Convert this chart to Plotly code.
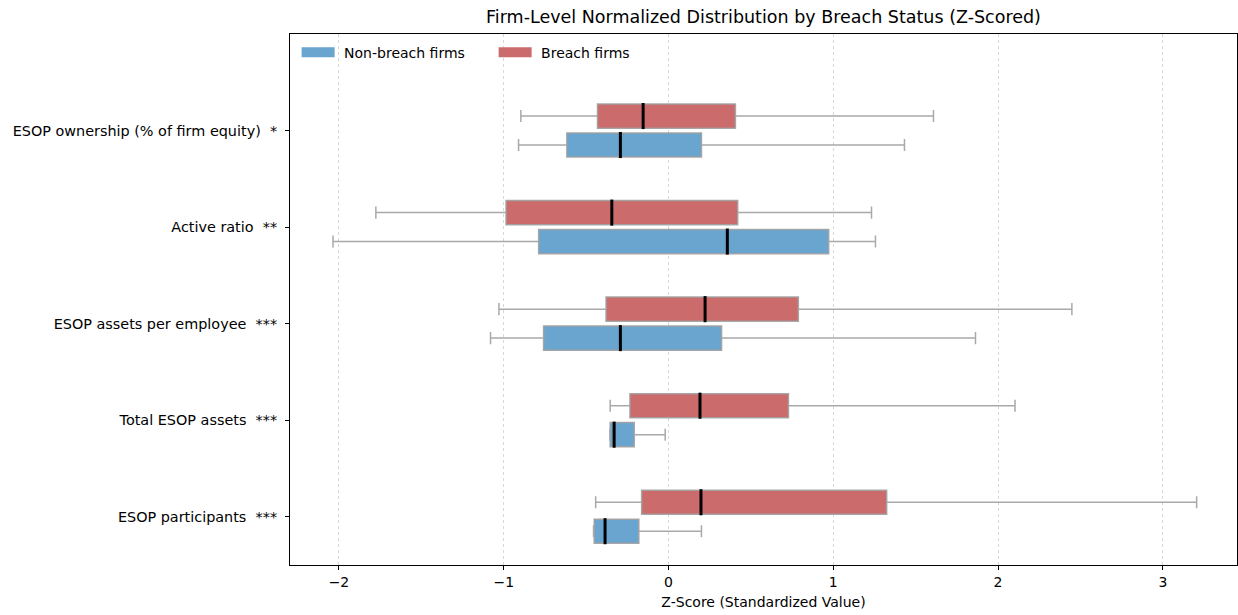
import plotly.graph_objects as go

# Features, listed top to bottom, with their significance stars
categories = [
    "ESOP ownership (% of firm equity)",
    "Active ratio",
    "ESOP assets per employee",
    "Total ESOP assets",
    "ESOP participants",
]
stars = ["*", "**", "***", "***", "***"]

# Breach firms: five-number summaries (z-scores)
breach_low = [-0.896, -1.776, -1.029, -0.354, -0.442]
breach_q1 = [-0.431, -0.986, -0.379, -0.234, -0.163]
breach_med = [-0.154, -0.344, 0.222, 0.191, 0.197]
breach_q3 = [0.406, 0.420, 0.788, 0.728, 1.324]
breach_high = [1.608, 1.232, 2.448, 2.103, 3.205]

# Non-breach firms
nonbreach_low = [-0.910, -2.036, -1.080, -0.356, -0.455]
nonbreach_q1 = [-0.617, -0.788, -0.758, -0.354, -0.451]
nonbreach_med = [-0.292, 0.357, -0.292, -0.330, -0.385]
nonbreach_q3 = [0.200, 0.972, 0.322, -0.208, -0.180]
nonbreach_high = [1.432, 1.256, 1.863, -0.020, 0.200]

n = len(categories)
base = [n - 1 - i for i in range(n)]          # top category gets the highest slot
offset = 0.15
box_w = 0.25
breach_pos = [b + offset for b in base]
nonbreach_pos = [b - offset for b in base]

BLUE = "rgb(106,165,207)"
RED = "rgb(204,107,107)"
EDGE = "rgba(160,160,160,0.9)"
FONT = "DejaVu Sans, Liberation Sans, sans-serif"

fig = go.Figure()

for name, pos, q1, med, q3, lo, hi, color in [
    ("Non-breach firms", nonbreach_pos, nonbreach_q1, nonbreach_med,
     nonbreach_q3, nonbreach_low, nonbreach_high, BLUE),
    ("Breach firms", breach_pos, breach_q1, breach_med,
     breach_q3, breach_low, breach_high, RED),
]:
    fig.add_trace(go.Box(
        name=name, orientation="h", y=pos,
        q1=q1, median=med, q3=q3, lowerfence=lo, upperfence=hi,
        width=box_w, whiskerwidth=0.5, fillcolor=color,
        line=dict(color=EDGE, width=1.5), boxpoints=False,
        showlegend=False, legendgroup=name,
    ))

# Black median bars drawn over the boxes
def median_segments(meds, pos):
    xs, ys = [], []
    for m, p in zip(meds, pos):
        xs += [m, m, None]
        ys += [p - box_w / 2 - 0.01, p + box_w / 2 + 0.01, None]
    return xs, ys

for meds, pos in [(nonbreach_med, nonbreach_pos), (breach_med, breach_pos)]:
    mx, my = median_segments(meds, pos)
    fig.add_trace(go.Scatter(
        x=mx, y=my, mode="lines", line=dict(color="black", width=3),
        showlegend=False, hoverinfo="skip",
    ))

# Legend keys: wide filled patches
for name, color in [("Non-breach firms", BLUE), ("Breach firms", RED)]:
    fig.add_trace(go.Scatter(
        x=[None], y=[None], mode="lines", name="\u00a0" + name, legendgroup=name,
        line=dict(color=color, width=11), hoverinfo="skip",
    ))

tick_text = [f"{c}  {s}" for c, s in zip(categories, stars)]

fig.update_layout(
    width=1238, height=615,
    margin=dict(l=290, r=1, t=34, b=50),
    paper_bgcolor="white", plot_bgcolor="white",
    font=dict(family=FONT, size=14, color="black"),
    title=dict(
        text="Firm-Level Normalized Distribution by Breach Status (Z-Scored)",
        x=0.5, xref="paper", xanchor="center",
        y=1, yref="container", yanchor="top", pad=dict(t=11),
        font=dict(size=17.5, color="black"),
    ),
    showlegend=True,
    legend=dict(
        orientation="h", x=0.007, y=0.995, xanchor="left", yanchor="top",
        bgcolor="rgba(0,0,0,0)", font=dict(size=14), traceorder="normal",
        itemwidth=33, entrywidth=149,
    ),
    boxmode="overlay",
)

fig.update_xaxes(
    range=[-2.297, 3.45], tickvals=[-2, -1, 0, 1, 2, 3],
    ticktext=["\u22122", "\u22121", "0", "1", "2", "3"],
    showgrid=True, gridcolor="rgba(200,200,200,0.7)", griddash="dot", gridwidth=1,
    zeroline=False, showline=True, linecolor="black", linewidth=1, mirror=True,
    ticks="outside", ticklen=4, tickcolor="black",
    title=dict(text="Z-Score (Standardized Value)", font=dict(size=14), standoff=8),
)
fig.update_yaxes(
    range=[-0.5, 5.0], tickvals=base, ticktext=tick_text,
    showgrid=False, zeroline=False, showline=True, linecolor="black",
    linewidth=1, mirror=True, ticks="outside", ticklen=4, tickcolor="black",
    ticklabelstandoff=5, tickfont=dict(size=14.4),
)

fig.write_html("out.html")
